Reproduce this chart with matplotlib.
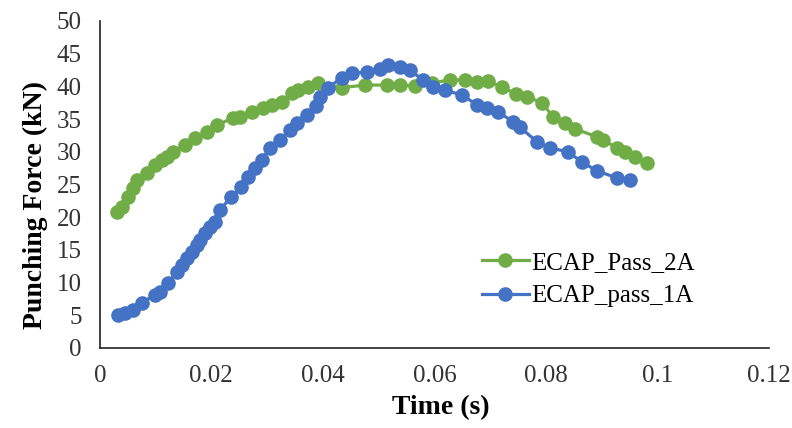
import matplotlib.pyplot as plt

# ECAP_Pass_2A (green)
time_2a = [0.0030, 0.0039, 0.0050, 0.0059, 0.0066, 0.0084, 0.0099, 0.0111, 0.0120, 0.0131,
           0.0152, 0.0170, 0.0192, 0.0211, 0.0239, 0.0251, 0.0273, 0.0292, 0.0308, 0.0326,
           0.0344, 0.0355, 0.0373, 0.0391, 0.0434, 0.0475, 0.0515, 0.0538, 0.0565, 0.0595,
           0.0628, 0.0655, 0.0676, 0.0696, 0.0721, 0.0747, 0.0766, 0.0793, 0.0813, 0.0834,
           0.0852, 0.0891, 0.0902, 0.0927, 0.0942, 0.0960, 0.0981]
force_2a = [20.8, 21.6, 23.1, 24.5, 25.7, 26.8, 28.0, 28.7, 29.2, 30.0,
            31.0, 32.1, 33.0, 34.1, 35.2, 35.3, 36.1, 36.7, 37.2, 37.6,
            39.0, 39.4, 39.9, 40.5, 39.8, 40.2, 40.2, 40.2, 40.1, 40.5,
            41.0, 41.0, 40.7, 40.8, 39.9, 38.8, 38.4, 37.5, 35.3, 34.4,
            33.5, 32.3, 31.8, 30.6, 30.0, 29.2, 28.3]

# ECAP_pass_1A (blue)
time_1a = [0.0033, 0.0045, 0.0059, 0.0075, 0.0099, 0.0108, 0.0122, 0.0138, 0.0147, 0.0156,
           0.0165, 0.0174, 0.0179, 0.0188, 0.0197, 0.0206, 0.0215, 0.0236, 0.0254, 0.0266,
           0.0278, 0.0290, 0.0305, 0.0323, 0.0341, 0.0353, 0.0371, 0.0387, 0.0395, 0.0409,
           0.0434, 0.0452, 0.0479, 0.0502, 0.0517, 0.0538, 0.0556, 0.0579, 0.0597, 0.0619,
           0.0649, 0.0676, 0.0694, 0.0714, 0.0741, 0.0753, 0.0784, 0.0807, 0.0839, 0.0865,
           0.0891, 0.0927, 0.0951]
force_1a = [5.0, 5.3, 5.8, 6.9, 8.1, 8.6, 9.9, 11.6, 12.7, 13.7,
            14.7, 15.7, 16.5, 17.6, 18.5, 19.3, 21.1, 23.1, 24.6, 26.1,
            27.5, 28.7, 30.6, 31.8, 33.3, 34.4, 35.6, 37.0, 38.4, 39.8,
            41.3, 42.0, 42.2, 42.7, 43.3, 43.0, 42.5, 41.0, 39.9, 39.4,
            38.7, 37.2, 36.7, 36.1, 34.6, 33.8, 31.5, 30.6, 30.0, 28.4,
            27.1, 26.0, 25.7]

xticks = [0, 0.02, 0.04, 0.06, 0.08, 0.1, 0.12]
xticklabels = ['0', '0.02', '0.04', '0.06', '0.08', '0.1', '0.12']
yticks = list(range(0, 51, 5))

plt.rcParams['font.family'] = ['Liberation Serif', 'DejaVu Serif']

fig = plt.figure(figsize=(7.92, 4.28), dpi=100)
ax = fig.add_axes([0.126, 0.187, 0.845, 0.764])

ax.plot(time_2a, force_2a, color='#70AD47', lw=2.3, marker='o', ms=9.5,
        label='ECAP_Pass_2A')
ax.plot(time_1a, force_1a, color='#4472C4', lw=2.3, marker='o', ms=9.5,
        label='ECAP_pass_1A')

ax.set_xlim(0, 0.12)
ax.set_ylim(0, 50)
ax.set_xticks(xticks)
ax.set_xticklabels(xticklabels)
ax.set_yticks(yticks)
ax.tick_params(length=0, labelsize=18, labelcolor='#333333')
ax.tick_params(axis='y', pad=13)
ax.tick_params(axis='x', pad=12)

for side in ['top', 'right']:
    ax.spines[side].set_visible(False)
for side in ['left', 'bottom']:
    ax.spines[side].set_linewidth(1.2)
    ax.spines[side].set_color('#222222')

ax.set_xlabel('Time (s)', fontsize=20, fontweight='bold')
ax.set_ylabel('Punching Force (kN)', fontsize=20, fontweight='bold')
ax.xaxis.set_label_coords(0.51, -0.145)
ax.yaxis.set_label_coords(-0.078, 0.437)

ax.legend(loc='center left', bbox_to_anchor=(0.537, 0.21), frameon=False,
          fontsize=18, handlelength=1.9, labelspacing=0.45, handletextpad=0.1)

fig.savefig('out.png', dpi=100)
